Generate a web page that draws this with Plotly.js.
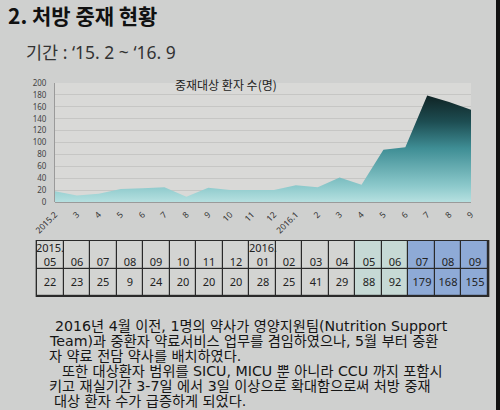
<!DOCTYPE html>
<html><head><meta charset="utf-8">
<script src="https://cdn.plot.ly/plotly-3.0.1.min.js"></script>
<style>html,body{margin:0;padding:0;background:#cfd0cf;}#chart{width:500px;height:410px;}</style>
</head><body><div id="chart"></div>
<script>
// chart data
const monthLabels = ["2015.2","3","4","5","6","7","8","9","10","11","12","2016.1","2","3","4","5","6","7","8","9"];
const patients = [18,11,14,22,23,25,9,24,20,20,20,28,25,41,29,88,92,179,168,155];
// table data
const tableMonths = ["2015.<br>05","\u00a0<br>06","\u00a0<br>07","\u00a0<br>08","\u00a0<br>09","\u00a0<br>10","\u00a0<br>11","\u00a0<br>12","2016.<br>01","\u00a0<br>02","\u00a0<br>03","\u00a0<br>04","\u00a0<br>05","\u00a0<br>06","\u00a0<br>07","\u00a0<br>08","\u00a0<br>09"];
const tableValues = [22,23,25,9,24,20,20,20,28,25,41,29,88,92,179,168,155];
const tableGroup = [0,0,0,0,0,0,0,0,0,0,0,0,1,1,2,2,2];
const textLines = [
  "2016년 4월 이전, 1명의 약사가 영양지원팀(Nutrition Support",
  "Team)과 중환자 약료서비스 업무를 겸임하였으나, 5월 부터 중환",
  "자 약료 전담 약사를 배치하였다.",
  "또한 대상환자 범위를 SICU, MICU 뿐 아니라 CCU 까지 포함시",
  "키고 재실기간 3-7일 에서 3일 이상으로 확대함으로써 처방 중재",
  "대상 환자 수가 급증하게 되었다."
];
const textX = [53,47,47,60,47,52];
const textY = [326,341,356,371,386,401];

const W = 500, H = 410;
const px = v => v / W, py = v => 1 - v / H;
const xIdx = monthLabels.map((_, i) => i);
const colIdx = tableValues.map((_, i) => i);

const font = "Noto Sans CJK KR, Noto Sans, sans-serif";
const bodyFont = "DejaVu Sans, Noto Sans CJK KR, sans-serif";
const tickFont = "Noto Sans, Noto Sans CJK KR, sans-serif";

const traces = [
  {
    type: "scatter", mode: "lines", x: xIdx, y: patients,
    line: {color: "rgba(0,0,0,0)", width: 0},
    fill: "tozeroy",
    fillgradient: {type: "vertical", start: 0, stop: 180,
      colorscale: [[0, "#b6e0e0"], [0.15, "#8cc9cb"], [0.5, "#3f8e95"], [0.75, "#1d4d52"], [1, "#0f2223"]]},
    hoverinfo: "skip", showlegend: false
  },
  {
    type: "heatmap", xaxis: "x2", yaxis: "y2",
    x: colIdx, y: [0, 1],
    z: [tableGroup, tableGroup],
    text: [tableValues.map(String), tableMonths],
    texttemplate: "%{text}",
    textfont: {family: tickFont, size: 11, color: "#222"},
    zmin: 0, zmax: 2,
    colorscale: [[0, "#d3d4d2"], [0.5, "#c6d9d5"], [1, "#8eaad6"]],
    showscale: false, xgap: 1.2, ygap: 1.2, hoverinfo: "skip"
  }
];

const annotations = [
  {text: "<b>2. 처방 중재 현황</b>", x: px(6), y: py(15), xref: "paper", yref: "paper", xanchor: "left", yanchor: "middle", showarrow: false, font: {family: font, size: 21, color: "#111"}},
  {text: "기간 : ‘15. 2 ~ ‘16. 9", x: px(24), y: py(52), xref: "paper", yref: "paper", xanchor: "left", yanchor: "middle", showarrow: false, font: {family: tickFont, size: 17.5, color: "#333"}},
  {text: "중재대상 환자 수(명)", x: px(226), y: py(85), xref: "paper", yref: "paper", xanchor: "center", yanchor: "middle", showarrow: false, font: {family: font, size: 12, color: "#222"}}
];
textLines.forEach((t, i) => annotations.push({
  text: t, x: px(textX[i]), y: py(textY[i]), xref: "paper", yref: "paper",
  xanchor: "left", yanchor: "middle", showarrow: false,
  font: {family: bodyFont, size: 14.2, color: "#151515"}
}));

const layout = {
  width: W, height: H,
  margin: {l: 0, r: 0, t: 0, b: 0},
  paper_bgcolor: "#cfd0cf", plot_bgcolor: "#d9d9d7",
  showlegend: false,
  xaxis: {
    domain: [px(55), px(471)], range: [0, 19], automargin: false,
    tickvals: xIdx, ticktext: monthLabels, tickangle: -45,
    tickfont: {family: tickFont, size: 8.5, color: "#333"},
    showgrid: false, zeroline: false, showline: false, ticks: "", ticklabelstandoff: 5
  },
  yaxis: {
    domain: [py(202), py(83)], range: [0, 200], dtick: 20, automargin: false,
    tickfont: {family: tickFont, size: 8, color: "#444"},
    gridcolor: "#c6c6c4", gridwidth: 1, zeroline: true, zerolinecolor: "#9a9a9a",
    showline: true, linecolor: "#9a9a9a", linewidth: 1, ticks: "", ticklabelstandoff: 6
  },
  xaxis2: {domain: [px(37), px(488)], range: [-0.5, 16.5], visible: false, anchor: "y2", fixedrange: true},
  yaxis2: {domain: [py(296), py(241)], range: [-0.5, 1.5], visible: false, anchor: "x2", fixedrange: true},
  annotations: annotations,
  shapes: [
    {type: "rect", xref: "x2 domain", yref: "y2 domain", x0: -0.003, x1: 1.003, y0: -0.02, y1: 1.02, fillcolor: "#2a2a2a", line: {width: 0}, layer: "below"},
    {type: "rect", xref: "paper", yref: "paper", x0: px(496), x1: 1, y0: 0, y1: 1, fillcolor: "#111", line: {width: 0}, layer: "above"}
  ]
};

Plotly.newPlot("chart", traces, layout, {displayModeBar: false, staticPlot: true});
</script></body></html>
